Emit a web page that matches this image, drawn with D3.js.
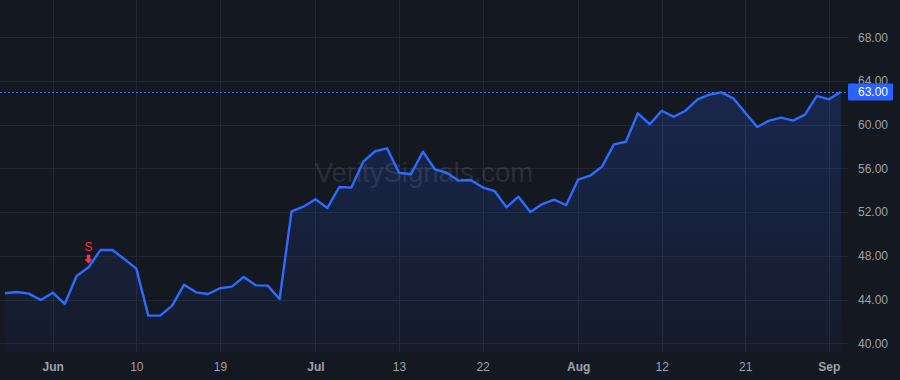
<!DOCTYPE html>
<html>
<head>
<meta charset="utf-8">
<script src="https://cdn.jsdelivr.net/npm/d3@7/dist/d3.min.js"></script>
<style>
    html, body { margin: 0; padding: 0; background: #141821; }
    svg { display: block; }
    .y-axis text, .x-axis text { fill: #9ea2ab; font-family: "Liberation Sans", Arial, sans-serif; font-size: 12px; }
    .x-axis text.month { font-weight: bold; }
</style>
</head>
<body>
<svg id="priceChart"></svg>
<script>
// trading days, 2020
const dates = [
    '2020-05-26', '2020-05-27', '2020-05-28', '2020-05-29',
    '2020-06-01', '2020-06-02', '2020-06-03', '2020-06-04', '2020-06-05',
    '2020-06-08', '2020-06-09', '2020-06-10', '2020-06-11', '2020-06-12',
    '2020-06-15', '2020-06-16', '2020-06-17', '2020-06-18', '2020-06-19',
    '2020-06-22', '2020-06-23', '2020-06-24', '2020-06-25', '2020-06-26',
    '2020-06-29', '2020-06-30', '2020-07-01', '2020-07-02',
    '2020-07-06', '2020-07-07', '2020-07-08', '2020-07-09', '2020-07-10',
    '2020-07-13', '2020-07-14', '2020-07-15', '2020-07-16', '2020-07-17',
    '2020-07-20', '2020-07-21', '2020-07-22', '2020-07-23', '2020-07-24',
    '2020-07-27', '2020-07-28', '2020-07-29', '2020-07-30', '2020-07-31',
    '2020-08-03', '2020-08-04', '2020-08-05', '2020-08-06', '2020-08-07',
    '2020-08-10', '2020-08-11', '2020-08-12', '2020-08-13', '2020-08-14',
    '2020-08-17', '2020-08-18', '2020-08-19', '2020-08-20', '2020-08-21',
    '2020-08-24', '2020-08-25', '2020-08-26', '2020-08-27', '2020-08-28',
    '2020-08-31', '2020-09-01', '2020-09-02'
];

const closes = [
    44.57, 44.69, 44.54, 43.96,
    44.63, 43.60, 46.16, 46.95, 48.54,
    48.54, 47.70, 46.83, 42.53, 42.53,
    43.44, 45.36, 44.66, 44.51, 45.03,
    45.18, 46.07, 45.30, 45.27, 44.05,
    52.07, 52.50, 53.17, 52.38,
    54.30, 54.24, 56.62, 57.57, 57.84,
    55.60, 55.46, 57.53, 55.92, 55.60,
    54.88, 54.94, 54.27, 53.93, 52.44,
    53.41, 52.01, 52.74, 53.14, 52.63,
    54.98, 55.33, 56.16, 58.20, 58.44,
    61.04, 60.04, 61.28, 60.73, 61.28,
    62.32, 62.75, 62.96, 62.41, 61.10,
    59.79, 60.37, 60.64, 60.37, 60.92,
    62.63, 62.32, 63.00
];

const tickDates = ['2020-06-01', '2020-06-10', '2020-06-19', '2020-07-01', '2020-07-13',
    '2020-07-22', '2020-08-03', '2020-08-12', '2020-08-21', '2020-09-01'];
const tickLabels = ['Jun', '10', '19', 'Jul', '13', '22', 'Aug', '12', '21', 'Sep'];

const yTicks = [40, 44, 48, 52, 56, 60, 64, 68];
const yDomain = [39.2, 71.41];

const signalDates = ['2020-06-04'];
const signalLabels = ['S'];

const watermark = 'VeritySignals.com';

(function () {
    'use strict';

    const totalWidth = 900;
    const totalHeight = 380;
    const plot = { 'left': 0, 'top': 0, 'width': 848, 'height': 352 };
    const lineColor = '#2e6bff';
    const gridColor = '#232733';

    const svg = d3.select('#priceChart')
        .attr('width', totalWidth)
        .attr('height', totalHeight);

    const data = dates.map((d, i) => {
        return { date: d, close: closes[i] };
    });

    const xScale = d3.scalePoint()
        .domain(dates)
        .range([5, 840.8]);
    const yScale = d3.scaleLinear()
        .domain(yDomain)
        .range([plot.height, 0]);

    (function init() {
        drawDefs();
        drawGrid();
        drawArea();
        drawWatermark();
        drawPriceLine();
        drawLine();
        drawAxes();
        drawSignals();
        drawPriceLabel();
    })();

    function drawDefs() {
        const grad = svg.append('defs')
            .append('linearGradient')
                .attr('id', 'areaFill')
                .attr('x1', 0).attr('y1', 0)
                .attr('x2', 0).attr('y2', 1);
        grad.append('stop').attr('offset', '0%').attr('stop-color', '#2962ff').attr('stop-opacity', 0.2);
        grad.append('stop').attr('offset', '100%').attr('stop-color', '#2962ff').attr('stop-opacity', 0.04);
    }

    function drawGrid() {
        const grid = svg.append('g').attr('class', 'grid');
        grid.selectAll('line.h')
            .data(yTicks)
            .enter().append('line')
                .attr('class', 'h')
                .attr('x1', plot.left).attr('x2', plot.width)
                .attr('y1', d => Math.round(yScale(d)) + 0.5)
                .attr('y2', d => Math.round(yScale(d)) + 0.5)
                .attr('stroke', gridColor);
        grid.selectAll('line.v')
            .data(tickDates)
            .enter().append('line')
                .attr('class', 'v')
                .attr('x1', d => Math.round(xScale(d)) + 0.5)
                .attr('x2', d => Math.round(xScale(d)) + 0.5)
                .attr('y1', 0).attr('y2', plot.height)
                .attr('stroke', gridColor);
    }

    function drawWatermark() {
        svg.append('text')
            .attr('x', plot.width / 2)
            .attr('y', 182)
            .attr('text-anchor', 'middle')
            .attr('font-family', '"Liberation Sans", Arial, sans-serif')
            .attr('font-size', 27.5)
            .attr('fill', 'rgba(190, 196, 210, 0.15)')
            .text(watermark);
    }

    function drawArea() {
        const area = d3.area()
            .x(d => xScale(d.date))
            .y0(plot.height)
            .y1(d => yScale(d.close));
        svg.append('path')
            .datum(data)
            .attr('fill', 'url(#areaFill)')
            .attr('d', area);
    }

    function drawLine() {
        const line = d3.line()
            .x(d => xScale(d.date))
            .y(d => yScale(d.close));
        svg.append('path')
            .datum(data)
            .attr('fill', 'none')
            .attr('stroke', lineColor)
            .attr('stroke-width', 2.4)
            .attr('stroke-linejoin', 'round')
            .attr('d', line);
    }

    function drawPriceLine() {
        const last = closes[closes.length - 1];
        svg.append('line')
            .attr('x1', 0).attr('x2', plot.width)
            .attr('y1', Math.round(yScale(last)) + 0.5)
            .attr('y2', Math.round(yScale(last)) + 0.5)
            .attr('stroke', '#3c6ef5')
            .attr('stroke-dasharray', '2,2');
    }

    function drawAxes() {
        const yAxis = d3.axisRight(yScale)
            .tickValues(yTicks)
            .tickSize(0)
            .tickPadding(10)
            .tickFormat(d3.format('.2f'));
        const gy = svg.append('g')
            .attr('class', 'y-axis')
            .attr('transform', `translate(${plot.width}, 0)`)
            .call(yAxis);
        gy.select('.domain').remove();

        const xAxis = d3.axisBottom(xScale)
            .tickValues(tickDates)
            .tickSize(0)
            .tickPadding(10)
            .tickFormat((d, i) => tickLabels[i]);
        const gx = svg.append('g')
            .attr('class', 'x-axis')
            .attr('transform', `translate(0, ${plot.height})`)
            .call(xAxis);
        gx.select('.domain').remove();
        gx.selectAll('text')
            .classed('month', (d, i) => isNaN(+tickLabels[i]));
    }

    function drawSignals() {
        const red = '#f23645';
        signalDates.forEach((d, i) => {
            const x = xScale(d);
            const y = yScale(closes[dates.indexOf(d)]);
            const g = svg.append('g')
                .attr('transform', `translate(${x}, ${y})`);
            g.append('path')
                .attr('d', 'M-1.8,-12.5 L1.8,-12.5 L1.8,-8 L4,-8 L0,-3.5 L-4,-8 L-1.8,-8 Z')
                .attr('fill', red);
            g.append('text')
                .attr('y', -16.5)
                .attr('text-anchor', 'middle')
                .attr('font-family', '"Liberation Sans", Arial, sans-serif')
                .attr('font-size', 12)
                .attr('fill', red)
                .text(signalLabels[i]);
        });
    }

    function drawPriceLabel() {
        const last = closes[closes.length - 1];
        const y = yScale(last);
        svg.append('rect')
            .attr('x', plot.width)
            .attr('y', y - 8.5)
            .attr('width', 45)
            .attr('height', 17)
            .attr('rx', 1)
            .attr('fill', '#2962ff');
        svg.append('text')
            .attr('x', plot.width + 10)
            .attr('y', y)
            .attr('dy', '0.35em')
            .attr('font-family', '"Liberation Sans", Arial, sans-serif')
            .attr('font-size', 12)
            .attr('fill', '#ffffff')
            .text(d3.format('.2f')(last));
    }
})();
</script>
</body>
</html>
